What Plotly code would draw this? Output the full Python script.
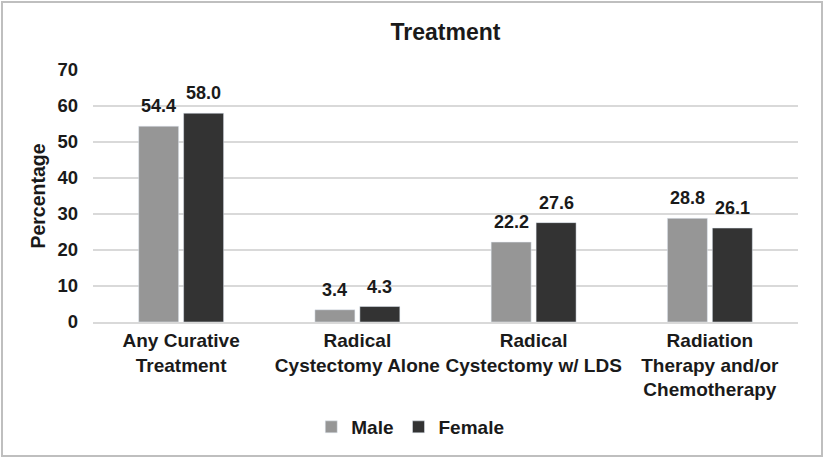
import plotly.graph_objects as go

categories = ["Any Curative<br>Treatment", "Radical<br>Cystectomy Alone",
              "Radical<br>Cystectomy w/ LDS", "Radiation<br>Therapy and/or<br>Chemotherapy"]
male = [54.4, 3.4, 22.2, 28.8]
female = [58.0, 4.3, 27.6, 26.1]
yticks = [0, 10, 20, 30, 40, 50, 60, 70]

W, H = 825, 459
L, R, T, B = 93, 27, 70, 137
pw, ph = W - L - R, H - T - B
slot = pw / len(categories) * (1 - 0.49) / 2  # width of one bar slot in px

font = dict(family="Liberation Sans, Arial, sans-serif", color="#1a1a1a")

fig = go.Figure()
fig.add_trace(go.Bar(name="<b>Male</b>", x=categories, y=male, marker_color="#969696"))
fig.add_trace(go.Bar(name="<b>Female</b>", x=categories, y=female, marker_color="#333333"))

# value labels above bars
for vals, sh in ((male, -slot / 2), (female, slot / 2)):
    for c, v in zip(categories, vals):
        fig.add_annotation(x=c, y=v, xref="x", yref="y", text=f"<b>{v:.1f}</b>",
                           showarrow=False, xanchor="center", yanchor="bottom",
                           xshift=sh, yshift=8, font=dict(size=18, color="#1a1a1a"))

fig.update_layout(
    width=W, height=H,
    margin=dict(l=L, r=R, t=T, b=B, autoexpand=False),
    paper_bgcolor="white", plot_bgcolor="white",
    font=dict(**font, size=18),
    title=dict(text="<b>Treatment</b>", x=0.5, xanchor="center", xref="paper",
               y=1 - 32 / H, yanchor="middle", font=dict(size=23)),
    barmode="group", bargap=0.49, bargroupgap=0.11,
    showlegend=True,
    legend=dict(orientation="h", x=0.45, xanchor="center", y=-(427 - 322) / ph, yanchor="middle",
                font=dict(size=19), itemwidth=30, traceorder="normal"),
)
fig.update_yaxes(range=[0, 70], tickvals=yticks, ticktext=[f"<b>{v}</b>" for v in yticks],
                 showgrid=True, gridcolor="#d9d9d9", gridwidth=2,
                 zeroline=False, showline=False, ticks="", ticklabelstandoff=14,
                 tickfont=dict(size=18.5), automargin=False,
                 title=dict(text="<b>Percentage</b>", font=dict(size=19.5), standoff=6))
fig.update_xaxes(showline=True, linecolor="#d9d9d9", linewidth=2, ticks="",
                 tickvals=categories, ticktext=[f"<b>{c}</b>" for c in categories],
                 tickfont=dict(size=19), automargin=False)

# outer border
fig.add_shape(type="rect", xref="paper", yref="paper",
              x0=(2 - L) / pw, x1=(W - 3 - L) / pw,
              y0=-(H - 3 - T - ph) / ph, y1=(H - 2 - B) / ph,
              line=dict(color="#bfbfbf", width=2), fillcolor="rgba(0,0,0,0)", layer="below")

fig.write_html("out.html", config={"displayModeBar": False},
               post_script="document.body.style.margin='0';document.body.style.overflow='hidden';")
